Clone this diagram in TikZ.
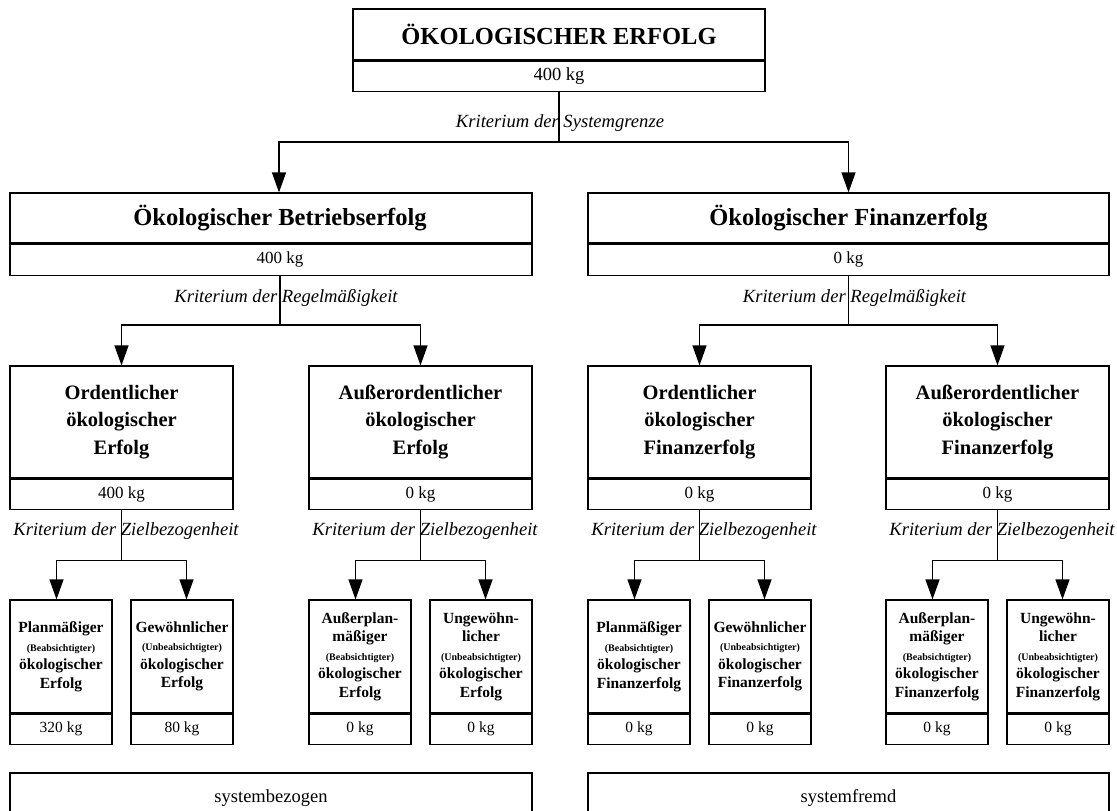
\documentclass[tikz,border=0pt]{standalone}
\usepackage{fontspec}
\setmainfont{Liberation Serif}
\usetikzlibrary{arrows.meta,calc}
\newcommand\fttl{\fontsize{24.5}{29}\selectfont\bfseries}
\newcommand\ftopval{\fontsize{18.5}{21}\selectfont}
\newcommand\fval{\fontsize{17}{20}\selectfont}
\newcommand\fcrit{\fontsize{18.6}{22}\selectfont\itshape}
\newcommand\fmid{\fontsize{20.5}{27.5}\selectfont\bfseries}
\newcommand\fsml{\fontsize{15.5}{18.5}\selectfont\bfseries}
\newcommand\ftiny{\fontsize{10}{12}\selectfont\bfseries}
\newcommand\fsval{\fontsize{15.5}{18}\selectfont}
\newcommand\fbot{\fontsize{18.5}{22}\selectfont}
\begin{document}
\begin{tikzpicture}[x=1pt,y=-1pt,
  box/.style={draw, line width=1.2pt, inner sep=0pt, align=center},
  topttl/.style={box, font=\fttl, minimum width=412, minimum height=51},
  topval/.style={box, font=\ftopval, minimum width=412, minimum height=30, anchor=north},
  lvttl/.style={box, font=\fttl, minimum width=522, minimum height=50},
  lvval/.style={box, font=\fval, minimum width=522, minimum height=31, anchor=north},
  midttl/.style={box, font=\fmid, minimum width=223, minimum height=112},
  midval/.style={box, font=\fval, minimum width=223, minimum height=30, anchor=north},
  smlttl/.style={box, font=\fsml, minimum width=102, minimum height=113},
  smlval/.style={box, font=\fsval, minimum width=102, minimum height=30, anchor=north},
  botbox/.style={box, font=\fbot, minimum width=522, minimum height=50},
  crit/.style={font=\fcrit, inner sep=0pt},
  sepline/.style={line width=2pt},
  conn/.style={line width=1.2pt},
  arr/.style={line width=1.2pt, -{Triangle[length=20pt,width=14pt]}}
]
\useasboundingbox (0,0) rectangle (1117,811);
\clip (0,0) rectangle (1117,811);
\fill[white] (0,0) rectangle (1117,811);

% top
\node[topttl] (top) at (559,34.5) {ÖKOLOGISCHER ERFOLG};
\node[topval] (topv) at (top.south) {400 kg};
\draw[sepline] (top.south west) -- (top.south east);

% level 2
\node[lvttl] (bt) at (271,218) {\hspace*{18pt}Ökologischer Betriebserfolg};
\node[lvval] (bv) at (bt.south) {\hspace*{18pt}400 kg};
\draw[sepline] (bt.south west) -- (bt.south east);
\node[lvttl, minimum width=521] (ft) at (848.5,218) {Ökologischer Finanzerfolg};
\node[lvval, minimum width=521] (fv) at (ft.south) {0 kg};
\draw[sepline] (ft.south west) -- (ft.south east);

% level 3
\node[midttl] (o1) at (121.5,422) {Ordentlicher\\ökologischer\\Erfolg};
\node[midval] (o1v) at (o1.south) {400 kg};
\node[midttl] (a1) at (420.5,422) {Außerordentlicher\\ökologischer\\Erfolg};
\node[midval] (a1v) at (a1.south) {0 kg};
\node[midttl] (o2) at (699.5,422) {Ordentlicher\\ökologischer\\Finanzerfolg};
\node[midval] (o2v) at (o2.south) {0 kg};
\node[midttl] (a2) at (997.5,422) {Außerordentlicher\\ökologischer\\Finanzerfolg};
\node[midval] (a2v) at (a2.south) {0 kg};
\foreach \n in {o1,a1,o2,a2}
  \draw[sepline] (\n.south west) -- (\n.south east);

% level 4
\node[smlttl] (s1) at (61,656.5) {Planmäßiger\\{\ftiny (Beabsichtigter)}\\ökologischer\\Erfolg};
\node[smlval] (v1) at (s1.south) {320 kg};
\node[smlttl] (s2) at (182,656.5) {Gewöhnlicher\\{\ftiny (Unbeabsichtigter)}\\ökologischer\\Erfolg};
\node[smlval] (v2) at (s2.south) {80 kg};
\node[smlttl] (s3) at (360,656.5) {Außerplan-\\mäßiger\\{\ftiny (Beabsichtigter)}\\ökologischer\\Erfolg};
\node[smlval] (v3) at (s3.south) {0 kg};
\node[smlttl] (s4) at (481,656.5) {Ungewöhn-\\licher\\{\ftiny (Unbeabsichtigter)}\\ökologischer\\Erfolg};
\node[smlval] (v4) at (s4.south) {0 kg};
\node[smlttl] (s5) at (639,656.5) {Planmäßiger\\{\ftiny (Beabsichtigter)}\\ökologischer\\Finanzerfolg};
\node[smlval] (v5) at (s5.south) {0 kg};
\node[smlttl] (s6) at (760,656.5) {Gewöhnlicher\\{\ftiny (Unbeabsichtigter)}\\ökologischer\\Finanzerfolg};
\node[smlval] (v6) at (s6.south) {0 kg};
\node[smlttl] (s7) at (937,656.5) {Außerplan-\\mäßiger\\{\ftiny (Beabsichtigter)}\\ökologischer\\Finanzerfolg};
\node[smlval] (v7) at (s7.south) {0 kg};
\node[smlttl] (s8) at (1058,656.5) {Ungewöhn-\\licher\\{\ftiny (Unbeabsichtigter)}\\ökologischer\\Finanzerfolg};
\node[smlval] (v8) at (s8.south) {0 kg};
\foreach \n in {s1,s2,s3,s4,s5,s6,s7,s8}
  \draw[sepline] (\n.south west) -- (\n.south east);

% bottom
\node[botbox] (sb) at (271,798) {systembezogen};
\node[botbox, minimum width=521] (sf) at (848.5,798) {systemfremd};

% connectors level 1 -> 2
\coordinate (j0) at (559,142);
\draw[conn] (topv.south) -- (j0);
\draw[arr] (j0) -| ([xshift=8pt]bt.north);
\draw[arr] (j0) -| (ft.north);
\node[crit] (k0) at (560,123) {Kriterium der Systemgrenze};

% level 2 -> 3
\coordinate (b0) at ($(bv.south)+(9,0)$);
\coordinate (j1) at (280,325);
\draw[conn] (b0) -- (j1);
\draw[arr] (j1) -| (o1.north);
\draw[arr] (j1) -| (a1.north);
\node[crit] (k1) at (286,298) {Kriterium der Regelmäßigkeit};

\coordinate (j2) at (848.5,325);
\draw[conn] (fv.south) -- (j2);
\draw[arr] (j2) -| (o2.north);
\draw[arr] (j2) -| (a2.north);
\node[crit] (k2) at (854.5,298) {Kriterium der Regelmäßigkeit};

% level 3 -> 4
\foreach \p/\l/\r [count=\i] in {o1v/s1/s2, a1v/s3/s4, o2v/s5/s6, a2v/s7/s8}{
  \coordinate (jj\i) at ($(\p.south)+(0,51)$);
  \draw[conn] (\p.south) -- (jj\i);
  \draw[arr] (jj\i) -| ([xshift=-4.5pt]\l.north);
  \draw[arr] (jj\i) -| ([xshift=4.5pt]\r.north);
  \node[crit] (kz\i) at ($(\p.south)+(4.5,21)$) {Kriterium der Zielbezogenheit};
}
\end{tikzpicture}
\end{document}
